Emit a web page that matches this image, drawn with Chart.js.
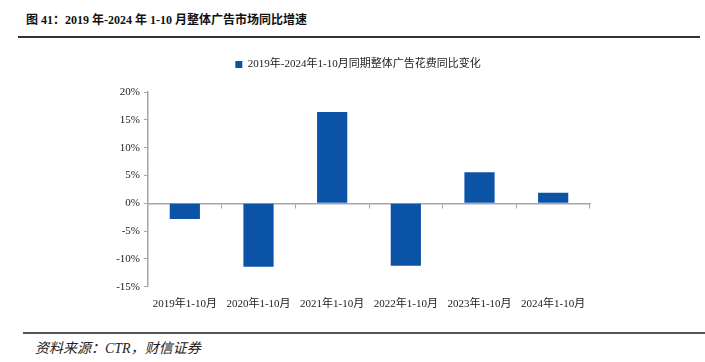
<!DOCTYPE html>
<html>
<head>
<meta charset="utf-8">
<script src="https://cdn.jsdelivr.net/npm/chart.js@4/dist/chart.umd.min.js"></script>
<style>
  body { margin: 0; background: #fff; width: 705px; height: 362px; position: relative; overflow: hidden; }
  #title { position: absolute; left: 26px; top: 10px; font: bold 12px 'Liberation Serif', 'Noto Sans CJK SC'; color: #111; white-space: nowrap; }
  #topline { position: absolute; left: 18px; top: 36px; width: 682px; height: 2px; background: #333; }
  #chartbox { position: absolute; left: 110px; top: 49px; width: 496px; height: 265px; }
  #bottomline { position: absolute; left: 23px; top: 332px; width: 682px; height: 2px; background: #555; }
  #source { position: absolute; left: 35px; top: 337px; font: italic 14px 'Liberation Serif', 'Noto Sans CJK SC'; color: #222; white-space: nowrap; }
</style>
</head>
<body>
<div id="title">图 41：2019 年-2024 年 1-10 月整体广告市场同比增速</div>
<div id="topline"></div>
<div id="chartbox"><canvas id="c"></canvas></div>
<div id="bottomline"></div>
<div id="source">资料来源：CTR，财信证券</div>
<script>
const categories = ['2019年1-10月', '2020年1-10月', '2021年1-10月', '2022年1-10月', '2023年1-10月', '2024年1-10月'];
const seriesName = '2019年-2024年1-10月同期整体广告花费同比变化';
const growth = [-2.8, -11.4, 16.4, -11.2, 5.6, 1.9];
const yMin = -15, yMax = 20, yStep = 5;

const axisGray = '#A6A6A6';
const tickFont = { family: "'Liberation Serif', 'Noto Sans CJK SC'", size: 11 };

// push the plot area down under the legend, and nudge the legend right a little
const legendGap = {
    id: 'legendGap',
    beforeInit(chart) {
        const fit = chart.legend.fit;
        chart.legend.fit = function () {
            fit.bind(chart.legend)();
            this.height += 12;
        };
    },
    afterLayout(chart) {
        chart.legend.left += 8;
        chart.legend.right += 8;
    }
};

new Chart(document.getElementById('c'), {
    type: 'bar',
    data: {
        labels: categories,
        datasets: [{
            label: seriesName,
            data: growth,
            backgroundColor: '#0B53A6',
            borderColor: '#0B53A6',
            borderWidth: 0,
            categoryPercentage: 1,
            barPercentage: 0.41
        }]
    },
    options: {
        responsive: true,
        maintainAspectRatio: false,
        animation: false,
        layout: { padding: { left: 0, right: 16, top: 0, bottom: 0 } },
        plugins: {
            legend: {
                position: 'top',
                labels: {
                    boxWidth: 7,
                    boxHeight: 7,
                    padding: 10,
                    color: '#222',
                    font: { family: "'Liberation Serif', 'Noto Sans CJK SC'", size: 11 }
                }
            },
            tooltip: { enabled: false }
        },
        scales: {
            x: {
                grid: { display: false },
                border: { display: false },
                ticks: { color: '#222', font: tickFont, padding: 3, maxRotation: 0, autoSkip: false }
            },
            x2: {
                type: 'category',
                position: { y: 0 },
                offset: true,
                grid: { offset: true, drawOnChartArea: false, tickLength: 4, color: axisGray },
                border: { color: axisGray, width: 1.5 },
                ticks: { display: false }
            },
            y: {
                min: yMin,
                max: yMax,
                afterFit: s => { s.width = 38; },
                grid: { color: 'rgba(0,0,0,0)', tickColor: axisGray, tickLength: 4 },
                border: { color: axisGray, width: 1.5 },
                ticks: {
                    stepSize: yStep,
                    color: '#222',
                    font: tickFont,
                    padding: 4,
                    callback: v => v + '%'
                }
            }
        }
    },
    plugins: [legendGap]
});
</script>
</body>
</html>
